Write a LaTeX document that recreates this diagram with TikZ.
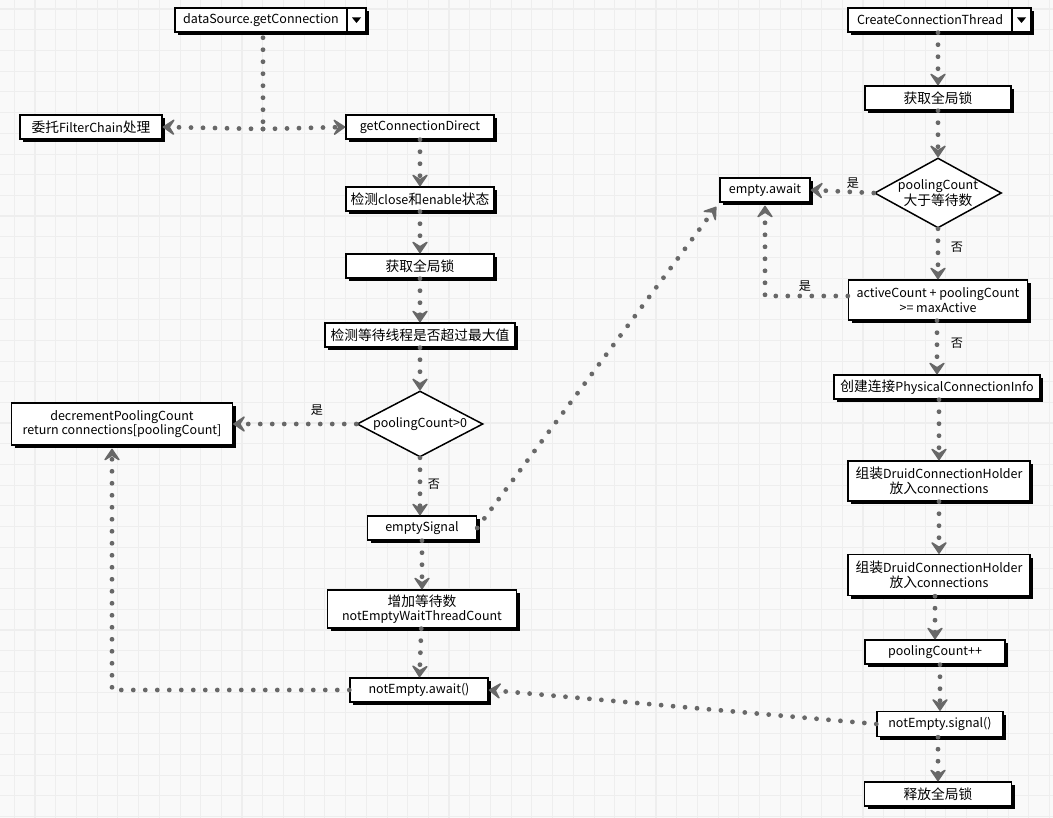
\documentclass[tikz,border=0pt]{standalone}
\usepackage{fontspec}
\setmainfont{Noto Sans CJK SC}
\newfontfamily\cjk[Scale=1.1]{Noto Sans CJK SC}
\usetikzlibrary{arrows.meta,shapes.geometric,shadows,calc}
\definecolor{bg}{HTML}{F9F9F9}
\definecolor{gridc}{HTML}{EEEEEE}
\definecolor{arr}{HTML}{686868}
\tikzset{
  box/.style={draw=black, line width=1.4pt, fill=white, inner sep=2pt,
    font=\fontsize{12.5}{14.5}\selectfont, align=center,
    general shadow={fill=black, shadow xshift=3pt, shadow yshift=-3pt}},
  dia/.style={diamond, draw=black, line width=1.5pt, fill=white, inner sep=-12pt,
    font=\fontsize{12.5}{14.5}\selectfont, align=center},
  conn/.style={draw=arr, line width=4.8pt, line cap=round, dash pattern=on 0pt off 12pt,
    -{Stealth[length=14pt,width=19pt,inset=6pt,line width=1.5pt,round,fill=arr]}},
  plain/.style={draw=arr, line width=4.8pt, line cap=round, dash pattern=on 0pt off 12pt},
  lbl/.style={font=\cjk\fontsize{11}{13}\selectfont, inner sep=1pt},
}
\begin{document}
\begin{tikzpicture}[x=1pt,y=-1pt]
\useasboundingbox (0,0) rectangle (1053,818);
\fill[bg] (0,0) rectangle (1053,818);
\foreach \i in {0,...,50} {
  \pgfmathsetmacro\xx{14.3+20.7*\i}
  \pgfmathsetmacro\lw{ifthenelse(mod(\i,2)==1,1.3,0.6)}
  \draw[gridc, line width=\lw pt] (\xx,0) -- (\xx,818);
}
\foreach \i in {0,...,39} {
  \pgfmathsetmacro\yy{9+20.7*\i}
  \pgfmathsetmacro\lw{ifthenelse(mod(\i,2)==0,1.3,0.6)}
  \draw[gridc, line width=\lw pt] (0,\yy) -- (1053,\yy);
}

% left column
\node[box, minimum width=172pt, minimum height=24pt] (ds) at (261,20) {dataSource.getConnection};
\node[box, minimum width=19pt, minimum height=24pt] (dsd) at (356.5,20) {};
\fill ($(dsd.center)+(-4.5,-2.5)$) -- ($(dsd.center)+(4.5,-2.5)$) -- ($(dsd.center)+(0,3)$) -- cycle;
\node[box, minimum width=142pt, minimum height=24pt] (filt) at (91,127) {{\cjk 委托}FilterChain{\cjk 处理}};
\node[box, minimum width=148pt, minimum height=24pt] (gcd) at (420,127) {getConnectionDirect};
\node[box, minimum width=148pt, minimum height=24pt] (chk) at (420,199) {{\cjk 检测}close{\cjk 和}enable{\cjk 状态}};
\node[box, minimum width=148pt, minimum height=24pt] (lock1) at (420,266) {\cjk 获取全局锁};
\node[box, minimum width=190pt, minimum height=24pt] (wait) at (420,335) {\cjk 检测等待线程是否超过最大值};
\node[dia, minimum width=126pt, minimum height=66pt] (d1) at (420,424) {poolingCount>0};
\node[box, minimum width=221pt, minimum height=42pt] (dec) at (122,424) {decrementPoolingCount\\return connections[poolingCount]};
\node[box, minimum width=109pt, minimum height=24pt] (es) at (422,528) {emptySignal};
\node[box, minimum width=189pt, minimum height=38pt] (inc) at (422,609) {{\cjk 增加等待数}\\notEmptyWaitThreadCount};
\node[box, minimum width=138pt, minimum height=24pt] (nea) at (419,690) {notEmpty.await()};

% right column
\node[box, minimum width=164pt, minimum height=24pt] (cct) at (930,20) {CreateConnectionThread};
\node[box, minimum width=19pt, minimum height=24pt] (cctd) at (1021.5,20) {};
\fill ($(cctd.center)+(-4.5,-2.5)$) -- ($(cctd.center)+(4.5,-2.5)$) -- ($(cctd.center)+(0,3)$) -- cycle;
\node[box, minimum width=146pt, minimum height=24pt] (lock2) at (938,98) {\cjk 获取全局锁};
\node[dia, minimum width=127pt, minimum height=70pt] (d2) at (938,193) {poolingCount\\{\cjk 大于等待数}};
\node[box, minimum width=90pt, minimum height=24pt] (ea) at (765,190) {empty.await};
\node[box, minimum width=179pt, minimum height=40pt] (ac) at (938,300) {activeCount + poolingCount\\>= maxActive};
\node[box, minimum width=206pt, minimum height=24pt] (phys) at (937,387) {{\cjk 创建连接}PhysicalConnectionInfo};
\node[box, minimum width=182pt, minimum height=40pt] (h1) at (939,481) {{\cjk 组装}DruidConnectionHolder\\{\cjk 放入}connections};
\node[box, minimum width=182pt, minimum height=41pt] (h2) at (939,575) {{\cjk 组装}DruidConnectionHolder\\{\cjk 放入}connections};
\node[box, minimum width=140pt, minimum height=24pt] (pc) at (935,652) {poolingCount++};
\node[box, minimum width=126pt, minimum height=25pt] (sig) at (940,724) {notEmpty.signal()};
\node[box, minimum width=147pt, minimum height=24pt] (rel) at (938,794) {\cjk 释放全局锁};

% connectors, left
\coordinate (j1) at (263,129);
\draw[plain] ([xshift=2pt,yshift=-5pt]ds.south) -- (j1);
\draw[conn] (j1) -- (filt.east);
\draw[conn] (j1) -- (gcd.west);
\draw[conn] (gcd) -- (chk);
\draw[conn] (chk) -- (lock1);
\draw[conn] (lock1) -- (wait);
\draw[conn] (wait) -- (d1);
\draw[conn] (d1.west) -- (dec.east);
\node[lbl] (l1) at (317,410) {是};
\draw[conn] (d1.south) -- ([xshift=-2pt]es.north);
\node[lbl] (l2) at (434,484) {否};
\draw[conn, shorten >=5pt] (es.east) -- (ea.south west);
\draw[conn] (es) -- (inc);
\draw[conn] (inc) -- (nea);
\draw[conn, shorten >=3pt] (nea.west) -| ([xshift=-10pt]dec.south);

% connectors, right
\draw[conn] (cct.south -| lock2) -- (lock2.north);
\draw[conn] (lock2) -- (d2);
\draw[conn] (d2.west) -- (ea.east);
\node[lbl] (l3) at (853,183) {是};
\draw[conn] (d2.south) -- (ac.north);
\node[lbl] (l4) at (957,247) {否};
\draw[conn, shorten >=3pt] ([yshift=4pt]ac.west) -| (ea.south);
\node[lbl] (l5) at (805,286) {是};
\draw[conn] (ac.south -| phys) -- (phys.north);
\node[lbl] (l6) at (957,343) {否};
\draw[conn] (phys.south -| h1) -- (h1.north);
\draw[conn] (h1) -- (h2);
\draw[conn] (h2.south -| pc) -- (pc.north);
\draw[conn] (pc.south -| sig) -- (sig.north);
\draw[conn] (sig.south -| rel) -- (rel.north);
\draw[conn] (sig.west) -- (nea.east);
\end{tikzpicture}
\end{document}
